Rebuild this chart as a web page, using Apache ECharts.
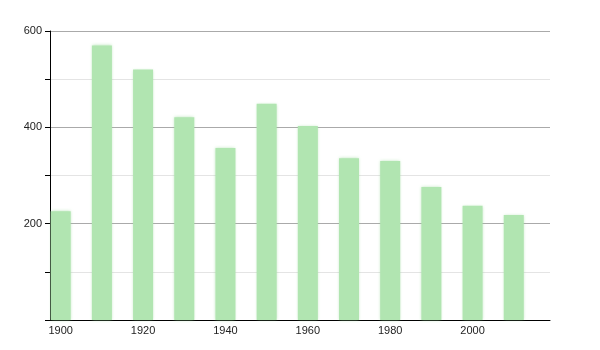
<!DOCTYPE html>
<html>
<head>
<meta charset="utf-8">
<script src="https://cdn.jsdelivr.net/npm/echarts@6/dist/echarts.min.js"></script>
<style>html,body{margin:0;padding:0;background:#fff;}#c{width:600px;height:350px;}</style>
</head>
<body>
<div id="c"></div>
<script>
var years = [1900, 1910, 1920, 1930, 1940, 1950, 1960, 1970, 1980, 1990, 2000, 2010];
var values = [226, 570, 520, 421, 357, 449, 403, 336, 330, 276, 237, 218];
var xTickLabels = [1900, 1920, 1940, 1960, 1980, 2000];
var yTickLabels = [200, 400, 600];

var chart = echarts.init(document.getElementById('c'), null, {renderer: 'canvas'});
chart.setOption({
  animation: false,
  grid: {left: 50, right: 50, top: 31, bottom: 30},
  xAxis: {
    type: 'value',
    min: 1897.4,
    max: 2018.8,
    axisLine: {show: true, lineStyle: {color: '#000', width: 1}},
    axisTick: {show: false},
    splitLine: {show: false},
    axisLabel: {
      customValues: xTickLabels,
      color: '#222',
      fontFamily: 'Arial, Liberation Sans, sans-serif',
      fontSize: 11,
      margin: 5,
      formatter: function (v) { return String(v); }
    }
  },
  yAxis: {
    type: 'value',
    min: 0,
    max: 600,
    interval: 100,
    axisLine: {show: true, lineStyle: {color: '#000', width: 1}},
    axisTick: {show: true, length: 5, lineStyle: {color: '#000'}},
    splitLine: {show: true, lineStyle: {color: ['#aaaaaa', '#e4e4e4'], width: 1}},
    axisLabel: {
      color: '#222',
      fontFamily: 'Arial, Liberation Sans, sans-serif',
      fontSize: 11,
      margin: 8,
      formatter: function (v) { return yTickLabels.indexOf(v) >= 0 ? String(v) : ''; }
    }
  },
  series: [{
    type: 'bar',
    data: years.map(function (y, i) { return [y, values[i]]; }),
    barWidth: 20,
    itemStyle: {
      color: '#b1e5b1',
      shadowColor: 'rgba(150,215,150,0.6)',
      shadowBlur: 3
    }
  }]
});
</script>
</body>
</html>
